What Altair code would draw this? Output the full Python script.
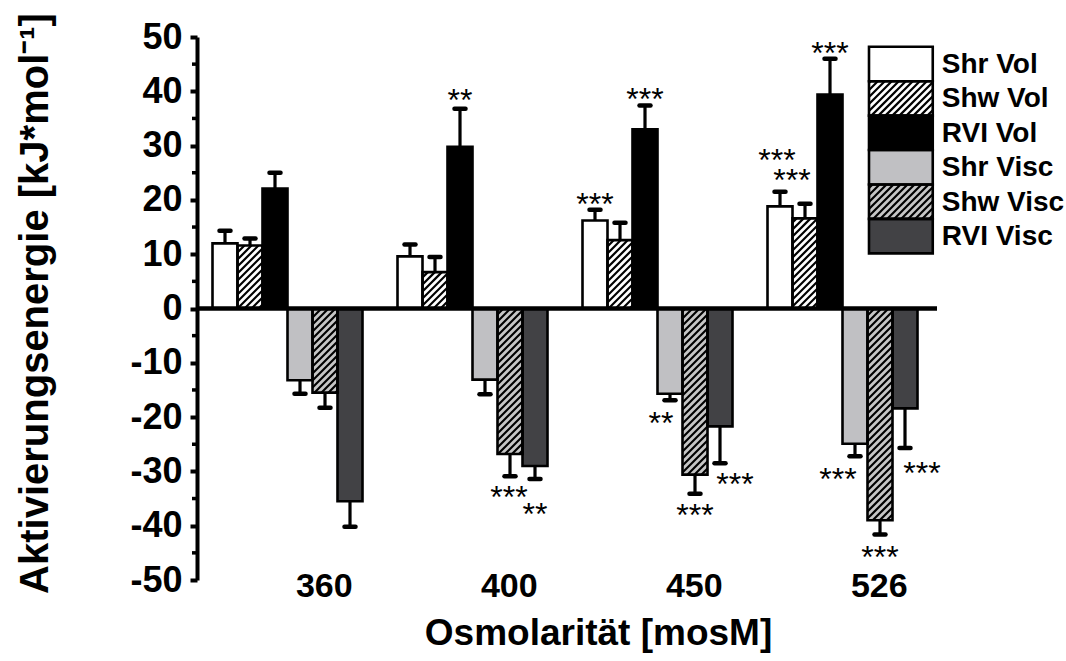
import altair as alt
import numpy as np
import pandas as pd

# ---------------------------------------------------------------- data
groups = ["360", "400", "450", "526"]
series = ["Shr Vol", "Shw Vol", "RVI Vol", "Shr Visc", "Shw Visc", "RVI Visc"]

# mean activation energy [kJ/mol] per osmolarity
shr_vol = [12.0, 9.6, 16.2, 18.8]
shw_vol = [11.6, 6.7, 12.6, 16.6]
rvi_vol = [22.1, 29.8, 33.0, 39.4]
shr_visc = [-13.2, -13.1, -15.7, -24.9]
shw_visc = [-15.5, -26.8, -30.6, -39.0]
rvi_visc = [-35.5, -29.0, -21.7, -18.4]

# standard errors
shr_vol_err = [2.3, 2.2, 2.0, 2.7]
shw_vol_err = [1.3, 2.8, 3.2, 2.7]
rvi_vol_err = [2.9, 7.0, 4.4, 6.6]
shr_visc_err = [2.5, 2.7, 1.2, 2.3]
shw_visc_err = [2.8, 4.1, 3.5, 2.6]
rvi_visc_err = [4.7, 2.4, 6.8, 7.3]

# significance labels (osmolarity, series, label)
star_groups = ["400", "450", "450", "526", "526", "526",
               "400", "400", "450", "450", "450", "526", "526", "526"]
star_series = ["RVI Vol", "Shr Vol", "RVI Vol", "Shr Vol", "Shw Vol", "RVI Vol",
               "Shw Visc", "RVI Visc", "Shr Visc", "Shw Visc", "RVI Visc",
               "Shr Visc", "Shw Visc", "RVI Visc"]
star_labels = ["**", "***", "***", "***", "***", "***",
               "***", "**", "**", "***", "***", "***", "***", "***"]

means = [shr_vol, shw_vol, rvi_vol, shr_visc, shw_visc, rvi_visc]
errors = [shr_vol_err, shw_vol_err, rvi_vol_err, shr_visc_err, shw_visc_err, rvi_visc_err]

# ---------------------------------------------------------------- styling / layout
fills = ["#ffffff", "#ffffff", "#000000", "#c0c0c3", "#c6c6c6", "#424245"]
hatched = {"Shw Vol", "Shw Visc"}
FONT = "Liberation Sans"

W, H = 740, 543
X_MAX = 29.6            # x axis in bar-slot units
GROUP_STEP = 7.4
GROUP_START = 0.62
Y_MIN, Y_MAX = -50, 50
PX_X = W / X_MAX
PX_Y = H / (Y_MAX - Y_MIN)
LABEL_SHIFT = 1.45      # category label offset from the group centre

# pixel nudges for the significance labels: (dx, gap beyond the error cap)
star_nudge = [(0, 17), (0, 14), (0, 14), (-3, 40), (-13, 32), (0, 14),
              (-1, 13), (0, 27), (-9, 15), (0, 13), (15, 13),
              (-17, 15), (0, 15), (17, 17)]

# legend box, in axis units
LEG_X0, LEG_X1 = 26.88, 29.43
LEG_TOP, LEG_ROW = 48.2, 6.34
LEG_TEXT_X = 29.79


def hatch_segments(x0, x1, v0, v1, pitch=7.0):
    """45 degree '/' stripes filling a rectangle given in axis units."""
    xa, xb = x0 * PX_X, x1 * PX_X
    ya, yb = sorted([(v0 - Y_MIN) * PX_Y, (v1 - Y_MIN) * PX_Y])
    segs = []
    k = np.floor((ya - xb) / pitch) * pitch
    while k <= yb - xa:
        s = max(xa, ya - k)
        e = min(xb, yb - k)
        if e > s:
            segs.append((s / PX_X, (s + k) / PX_Y + Y_MIN,
                         e / PX_X, (e + k) / PX_Y + Y_MIN))
        k += pitch
    return segs


# ---------------------------------------------------------------- tables
rows = []
for gi, g in enumerate(groups):
    for si, s in enumerate(series):
        x0 = gi * GROUP_STEP + GROUP_START + si
        v = means[si][gi]
        e = errors[si][gi]
        rows.append(dict(group=g, series=s, x0=x0, x1=x0 + 1, xc=x0 + 0.5,
                         value=v, base=0.0, tip=v + np.sign(v) * e,
                         cap0=x0 + 0.28, cap1=x0 + 0.72))
bars = pd.DataFrame(rows)

hatch_rows = []
for r in rows:
    if r["series"] in hatched:
        for a, b, c, d in hatch_segments(r["x0"], r["x1"], 0.0, r["value"]):
            hatch_rows.append(dict(x=a, y=b, x2=c, y2=d))

legend_rows = []
for i, s in enumerate(series):
    top = LEG_TOP - i * LEG_ROW
    legend_rows.append(dict(series=s, x0=LEG_X0, x1=LEG_X1, top=top,
                            bottom=top - LEG_ROW, mid=top - LEG_ROW / 2,
                            tx=LEG_TEXT_X))
    if s in hatched:
        for a, b, c, d in hatch_segments(LEG_X0, LEG_X1, top - LEG_ROW, top):
            hatch_rows.append(dict(x=a, y=b, x2=c, y2=d))
legend = pd.DataFrame(legend_rows)
hatch = pd.DataFrame(hatch_rows)

star_rows = []
for g, s, lab, (dx, gap) in zip(star_groups, star_series, star_labels, star_nudge):
    r = bars[(bars.group == g) & (bars.series == s)].iloc[0]
    sgn = np.sign(r.value)
    star_rows.append(dict(label=lab, x=r.xc + dx / PX_X, y=r.tip + sgn * gap / PX_Y))
stars = pd.DataFrame(star_rows)

label_pos = [gi * GROUP_STEP + GROUP_START + 3 + LABEL_SHIFT for gi in range(len(groups))]
minor = pd.DataFrame({"v": list(range(-45, 50, 10))})
zero = pd.DataFrame({"x0": [0.0], "x1": [X_MAX], "y": [0.0]})

# ---------------------------------------------------------------- scales / axes
xs = alt.Scale(domain=[0, X_MAX], nice=False, zero=False)
ys = alt.Scale(domain=[Y_MIN, Y_MAX], nice=False, zero=False)
col = alt.Color("series:N", scale=alt.Scale(domain=series, range=fills), legend=None)

x_axis = alt.Axis(values=label_pos,
                  labelExpr="['360','400','450','526'][floor(datum.value / 7.4)]",
                  domain=False, ticks=False, tickSize=0, grid=False,
                  labelFontSize=34, labelFontWeight="bold", labelColor="black",
                  labelFont=FONT, labelPadding=6, labelBaseline="middle",
                  title="Osmolarität [mosM]", titleFontSize=37, titleFontWeight="bold",
                  titleFont=FONT, titleColor="black", titleX=401, titleY=53,
                  titleBaseline="middle", titleAlign="center")
y_axis = alt.Axis(values=list(range(-50, 51, 10)), labelExpr="'' + datum.value",
                  tickSize=7, tickWidth=4,
                  domainWidth=4, domainColor="black", tickColor="black",
                  labelFontSize=36, labelFontWeight="bold", labelColor="black",
                  labelFont=FONT, labelPadding=8, grid=False,
                  title="Aktivierungsenergie [kJ*mol⁻¹]", titleFontSize=40,
                  titleFontWeight="bold", titleFont=FONT, titleColor="black",
                  titleX=-162, titleY=266, titleAngle=270, titleAlign="center",
                  titleBaseline="middle")


def X(field):
    return alt.X(field, scale=xs, axis=x_axis)


def Y(field):
    return alt.Y(field, scale=ys, axis=y_axis)


# ---------------------------------------------------------------- layers
bar_fill = alt.Chart(bars).mark_rect(strokeWidth=0).encode(
    x=X("x0:Q"), x2="x1:Q", y=Y("value:Q"), y2="base:Q", color=col)

leg_fill = alt.Chart(legend).mark_rect(strokeWidth=0).encode(
    x=X("x0:Q"), x2="x1:Q", y=Y("top:Q"), y2="bottom:Q", color=col)

hatch_layer = alt.Chart(hatch).mark_rule(color="black", strokeWidth=2.2).encode(
    x=X("x:Q"), x2="x2:Q", y=Y("y:Q"), y2="y2:Q")

bar_edge = alt.Chart(bars).mark_rect(fillOpacity=0, stroke="black", strokeWidth=2.6).encode(
    x=X("x0:Q"), x2="x1:Q", y=Y("value:Q"), y2="base:Q")

leg_edge = alt.Chart(legend).mark_rect(fillOpacity=0, stroke="black", strokeWidth=2.6).encode(
    x=X("x0:Q"), x2="x1:Q", y=Y("top:Q"), y2="bottom:Q")

zero_line = alt.Chart(zero).mark_rule(color="black", strokeWidth=4.5).encode(
    x=X("x0:Q"), x2="x1:Q", y=Y("y:Q"))

minor_ticks = alt.Chart(minor).mark_rule(color="black", strokeWidth=3.5).encode(
    y=Y("v:Q"), x=alt.value(-5), x2=alt.value(0))

stems = alt.Chart(bars).mark_rule(color="black", strokeWidth=3.2).encode(
    x=X("xc:Q"), y=Y("value:Q"), y2="tip:Q")

caps = alt.Chart(bars).mark_rule(color="black", strokeWidth=4.5, strokeCap="round").encode(
    x=X("cap0:Q"), x2="cap1:Q", y=Y("tip:Q"))

star_text = alt.Chart(stars).mark_text(font=FONT, fontSize=32, color="black",
                                       align="center", baseline="middle", dy=9).encode(
    x=X("x:Q"), y=Y("y:Q"), text="label:N")

leg_text = alt.Chart(legend).mark_text(font=FONT, fontSize=28, fontWeight="bold",
                                       color="black", align="left", baseline="middle", dy=1).encode(
    x=X("tx:Q"), y=Y("mid:Q"), text="series:N")

chart = alt.layer(
    bar_fill, leg_fill, hatch_layer, bar_edge, leg_edge, zero_line, minor_ticks,
    stems, caps, star_text, leg_text
).properties(
    width=W, height=H,
    autosize=alt.AutoSizeParams(type="none"),
    padding={"left": 197, "top": 37, "right": 129, "bottom": 81},
    background="white",
).configure(font=FONT).configure_view(stroke=None)

chart.save("out.html", embed_options={"renderer": "svg", "actions": False})
